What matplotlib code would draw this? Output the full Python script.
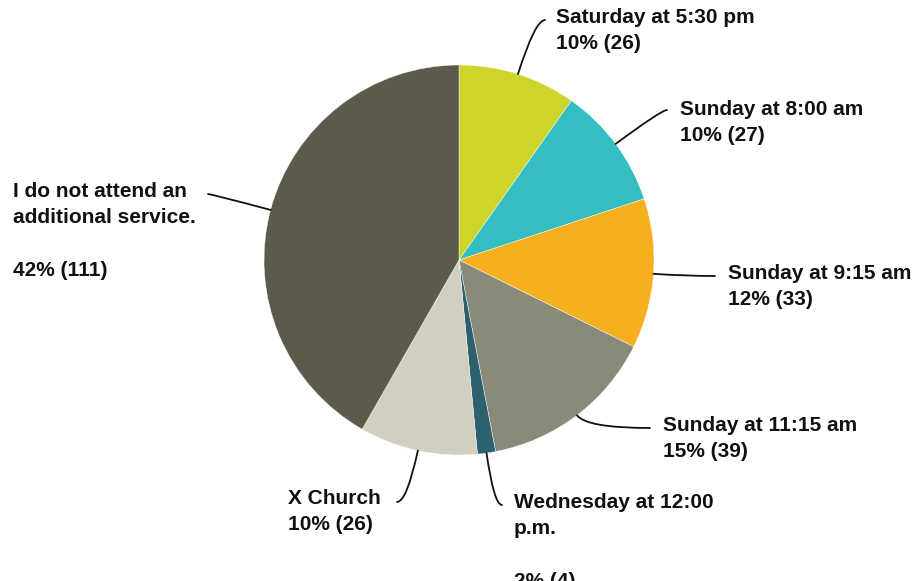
import numpy as np
import matplotlib
matplotlib.use("Agg")
import matplotlib.pyplot as plt

W, H = 916, 581

labels = ["Saturday at 5:30 pm", "Sunday at 8:00 am", "Sunday at 9:15 am",
          "Sunday at 11:15 am", "Wednesday at 12:00\np.m.\n",
          "X Church", "I do not attend an\nadditional service.\n"]
counts = [26, 27, 33, 39, 4, 26, 111]
pcts = [10, 10, 12, 15, 2, 10, 42]
colors = ["#cdd52a", "#35bec1", "#f6af1e", "#8a8a79", "#2e6170", "#d1cfc0", "#5c5a4b"]

# layout (pixel coords, y measured from top): text anchor, leader end, alignment
CX, CY, R = 459, 260, 195
text_pos = [(556, 8, "left"), (680, 100, "left"), (728, 264, "left"),
            (663, 416, "left"), (514, 493, "left"), (381, 489, "right"),
            (13, 182, "left")]
line_end = [(545, 20), (667, 110), (715, 276), (650, 428), (502, 505),
            (397, 502), (208, 194)]

plt.rcParams["font.family"] = ["Liberation Sans", "DejaVu Sans"]

fig = plt.figure(figsize=(W / 100, H / 100), dpi=100)
ax = fig.add_axes([0, 0, 1, 1])
ax.pie(counts, colors=colors, startangle=90, counterclock=False,
       center=(CX, H - CY), radius=R,
       wedgeprops=dict(edgecolor="white", linewidth=0.3))
ax.set_xlim(0, W)
ax.set_ylim(0, H)
ax.set_aspect("equal")
ax.axis("off")

total = float(sum(counts))
cum = np.cumsum([0] + counts)
for i, lab in enumerate(labels):
    mid = (cum[i] + cum[i + 1]) / 2 / total * 360.0   # clockwise from top
    a = np.deg2rad(mid)
    px, py = CX + R * np.sin(a), (H - CY) + R * np.cos(a)
    radial = 90.0 - mid
    ex, ey = line_end[i]
    ax.annotate("", xy=(px, py), xytext=(ex, H - ey),
                arrowprops=dict(arrowstyle="-", color="#111111", lw=1.3,
                                shrinkA=0, shrinkB=0,
                                connectionstyle="angle3,angleA=0,angleB=%.1f" % radial))
    tx, ty, ha = text_pos[i]
    ax.text(tx, H - ty, "%s\n%d%% (%d)" % (lab, pcts[i], counts[i]),
            ha=ha, va="top", fontsize=15, fontweight="bold", color="#111111",
            linespacing=1.48, multialignment="left")

fig.savefig("out.png", dpi=100)
